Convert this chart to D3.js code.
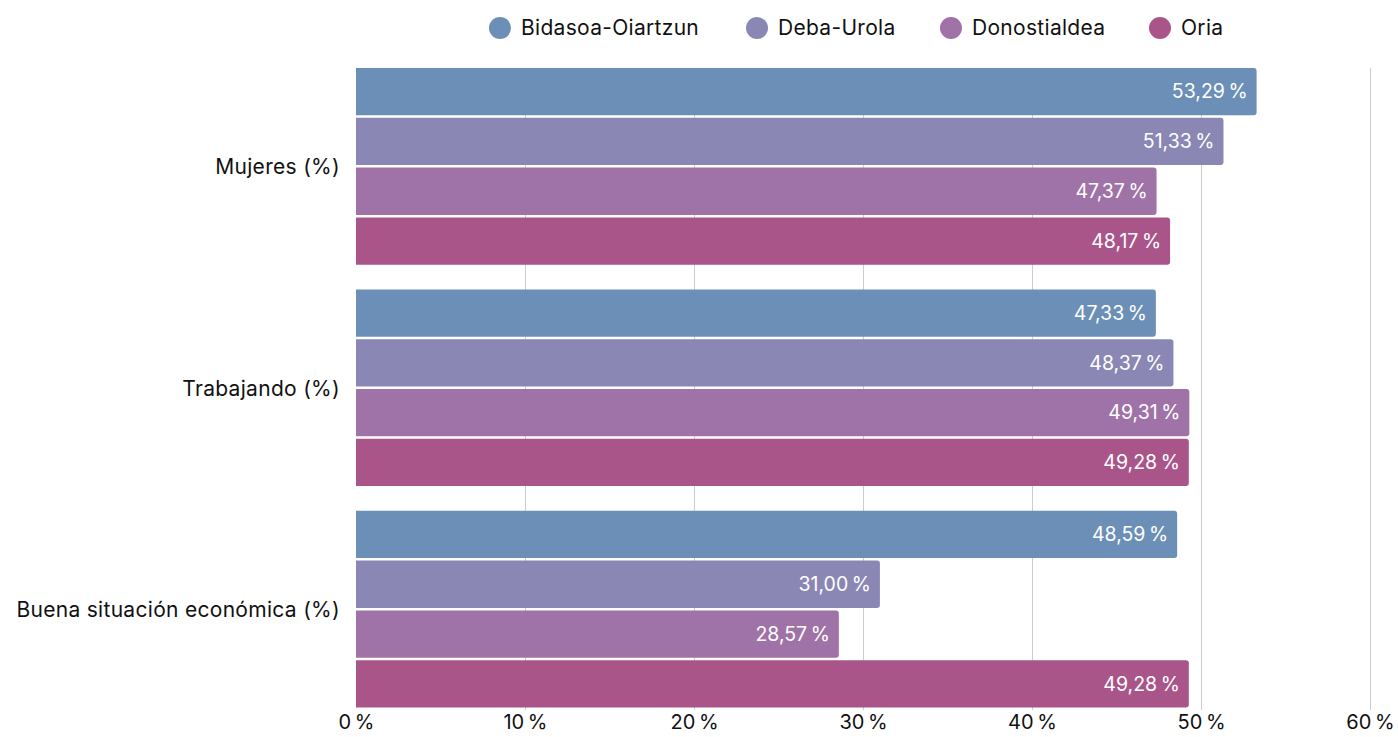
<!DOCTYPE html>
<html>
<head>
<meta charset="utf-8">
<script src="https://cdn.jsdelivr.net/npm/d3@7"></script>
<style>
  body { margin: 0; background: #fff; }
  svg { font-family: Inter, "Noto Sans", sans-serif; }
</style>
</head>
<body>
<svg id="chart"></svg>
<script>
// data
const categories = ["Mujeres (%)", "Trabajando (%)", "Buena situación económica (%)"];
const seriesNames = ["Bidasoa-Oiartzun", "Deba-Urola", "Donostialdea", "Oria"];
const bidasoa = [53.29, 47.33, 48.59];
const debaUrola = [51.33, 48.37, 31.00];
const donostialdea = [47.37, 49.31, 28.57];
const oria = [48.17, 49.28, 49.28];
const xTicks = [0, 10, 20, 30, 40, 50, 60];
const colors = ["#6c8fb8", "#8a87b5", "#9f73a7", "#a9558a"];

const seriesValues = [bidasoa, debaUrola, donostialdea, oria];

const config = {
    width: 1398,
    height: 737,
    margin: { top: 68, right: 28, bottom: 27, left: 356 }
};

const svg = d3.select("#chart")
    .attr("width", config.width)
    .attr("height", config.height);

const innerW = config.width - config.margin.left - config.margin.right;
const innerH = config.height - config.margin.top - config.margin.bottom;

const chart = svg.append("g")
    .attr("transform", `translate(${config.margin.left},${config.margin.top})`);

const xScale = d3.scaleLinear().domain([0, 60]).range([0, 1014]);

const yScale = d3.scaleBand()
    .domain(categories)
    .range([0, innerH])
    .paddingInner(0.1)
    .paddingOuter(0);

const ySub = d3.scaleBand()
    .domain(seriesNames)
    .range([0, yScale.bandwidth()]);

const colorScale = d3.scaleOrdinal().domain(seriesNames).range(colors);

// gridlines
chart.append("g")
    .selectAll("line")
    .data(xTicks.slice(1))
    .join("line")
    .attr("x1", d => xScale(d) + 0.5)
    .attr("x2", d => xScale(d) + 0.5)
    .attr("y1", 0)
    .attr("y2", innerH)
    .attr("stroke", "#cccccc")
    .attr("stroke-width", 1);

// bars
const rows = [];
categories.forEach((c, i) => {
    seriesNames.forEach((s, j) => {
        rows.push({ cat: c, series: s, value: seriesValues[j][i] });
    });
});

const fmt = v => d3.format(".2f")(v).replace(".", ",") + "\u202f%";

function barPath(w, h, r) {
    return `M0,0 H${w - r} Q${w},0 ${w},${r} V${h - r} Q${w},${h} ${w - r},${h} H0 Z`;
}

const bars = chart.append("g")
    .selectAll("g")
    .data(rows)
    .join("g")
    .attr("transform", d => `translate(0,${yScale(d.cat) + ySub(d.series)})`);

bars.append("path")
    .attr("d", d => barPath(xScale(d.value), ySub.bandwidth() - 2.5, 3))
    .attr("fill", d => colorScale(d.series));

bars.append("text")
    .attr("x", d => xScale(d.value) - 9)
    .attr("y", (ySub.bandwidth() - 2.5) / 2)
    .attr("dy", "0.35em")
    .attr("text-anchor", "end")
    .attr("fill", "#ffffff")
    .attr("font-size", 19.5)
    .text(d => fmt(d.value));

// axes
const xAxis = d3.axisBottom(xScale)
    .tickValues(xTicks)
    .tickSize(0)
    .tickPadding(5)
    .tickFormat(d => d + "\u202f%");

chart.append("g")
    .attr("transform", `translate(0,${innerH})`)
    .call(xAxis)
    .call(g => g.select(".domain").remove())
    .call(g => g.selectAll("text")
        .attr("font-size", 20)
        .attr("fill", "#111")
        .attr("font-family", "Inter, 'Noto Sans', sans-serif"));

const yAxis = d3.axisLeft(yScale).tickSize(0).tickPadding(16);

chart.append("g")
    .call(yAxis)
    .call(g => g.select(".domain").remove())
    .call(g => g.selectAll("text")
        .attr("font-size", 21)
        .attr("letter-spacing", "0.3")
        .attr("fill", "#111")
        .attr("font-family", "Inter, 'Noto Sans', sans-serif"));

// legend
const legendX = [500, 757, 951, 1160];
const legend = svg.append("g")
    .selectAll("g")
    .data(seriesNames)
    .join("g")
    .attr("transform", (d, i) => `translate(${legendX[i]},28)`);

legend.append("circle")
    .attr("r", 11)
    .attr("fill", d => colorScale(d));

legend.append("text")
    .attr("x", 21)
    .attr("dy", "0.35em")
    .attr("font-size", 21)
    .attr("letter-spacing", "0.3")
    .attr("fill", "#111")
    .text(d => d);
</script>
</body>
</html>
